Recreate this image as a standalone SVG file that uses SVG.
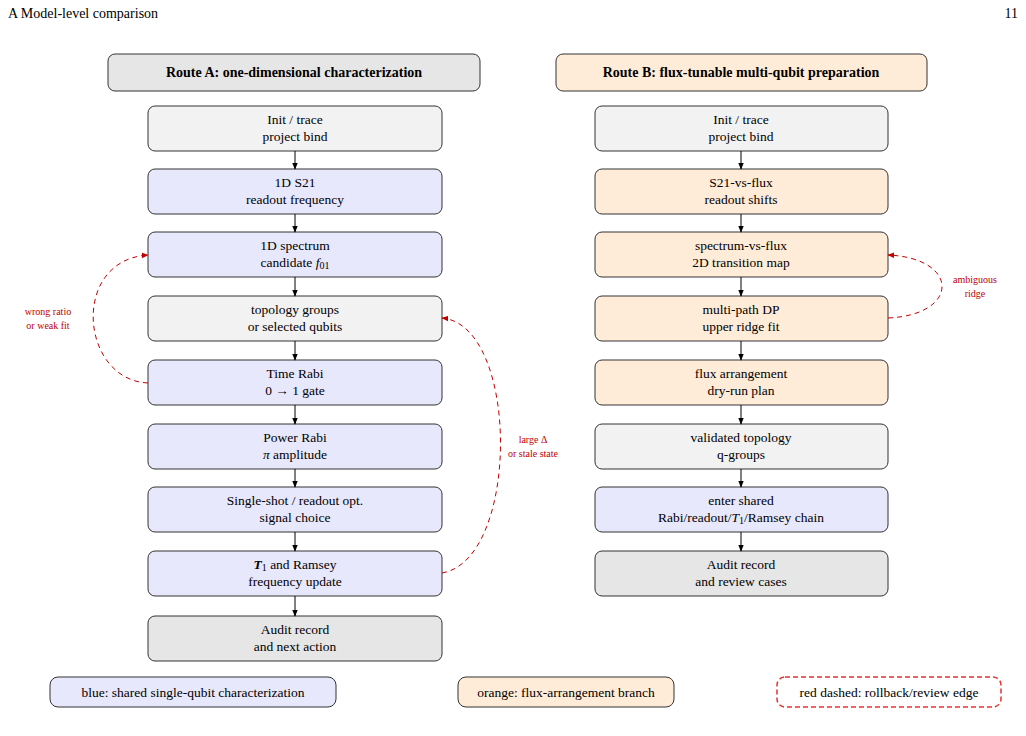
<svg xmlns="http://www.w3.org/2000/svg" width="1026" height="736" viewBox="0 0 1026 736">
<defs>
<marker id="ah" viewBox="0 0 10 10" refX="9" refY="5" markerWidth="7" markerHeight="7" orient="auto"><path d="M0,1 L10,5 L0,9 z" fill="#000"/></marker>
<marker id="ar" viewBox="0 0 10 10" refX="9" refY="5" markerWidth="7" markerHeight="7" orient="auto"><path d="M0,1 L10,5 L0,9 z" fill="#c00000"/></marker>
</defs>
<style>
text{font-family:"Liberation Serif","Times New Roman",serif;fill:#000}
.n{font-size:13.5px;text-anchor:middle}
.h{font-size:14px;font-weight:bold;text-anchor:middle}
.g rect{stroke:#333;stroke-width:1}
.gray{fill:#f2f2f2}.dgray{fill:#e6e6e6}.blue{fill:#e8e8fc}.org{fill:#ffecd8}
.c{stroke:#000;stroke-width:1;fill:none;marker-end:url(#ah)}
.r{stroke:#c00000;stroke-width:1;fill:none;stroke-dasharray:5,4;marker-end:url(#ar)}
.rl{font-size:10px;fill:#c00000;text-anchor:middle}
</style>
<rect width="1026" height="736" fill="#fff"/>
<text x="8" y="18" font-size="14">A   Model-level comparison</text>
<text x="1018" y="18" font-size="14" text-anchor="end">11</text>

<g id="hdrA" class="g"><rect x="108" y="54" width="372" height="37" rx="7" class="dgray"/><text class="h" x="294" y="77">Route A: one-dimensional characterization</text></g>
<g id="hdrB" class="g"><rect x="556" y="54" width="371" height="37" rx="7" class="org"/><text class="h" x="741" y="77">Route B: flux-tunable multi-qubit preparation</text></g>

<g id="a1" class="g"><rect x="148" y="106" width="294" height="45" rx="7" class="gray"/><text class="n" x="295" y="124">Init / trace</text><text class="n" x="295" y="141">project bind</text></g>
<g id="a2" class="g"><rect x="148" y="169" width="294" height="45" rx="7" class="blue"/><text class="n" x="295" y="187">1D S21</text><text class="n" x="295" y="204">readout frequency</text></g>
<g id="a3" class="g"><rect x="148" y="232" width="294" height="45" rx="7" class="blue"/><text class="n" x="295" y="250">1D spectrum</text><text class="n" x="295" y="267">candidate <tspan font-style="italic">f</tspan><tspan font-size="10" dy="2">01</tspan></text></g>
<g id="a4" class="g"><rect x="148" y="296" width="294" height="45" rx="7" class="gray"/><text class="n" x="295" y="314">topology groups</text><text class="n" x="295" y="331">or selected qubits</text></g>
<g id="a5" class="g"><rect x="148" y="360" width="294" height="45" rx="7" class="blue"/><text class="n" x="295" y="378">Time Rabi</text><text class="n" x="295" y="395">0   →   1 gate</text></g>
<g id="a6" class="g"><rect x="148" y="424" width="294" height="45" rx="7" class="blue"/><text class="n" x="295" y="442">Power Rabi</text><text class="n" x="295" y="459"><tspan font-style="italic">π</tspan> amplitude</text></g>
<g id="a7" class="g"><rect x="148" y="487" width="294" height="45" rx="7" class="blue"/><text class="n" x="295" y="505">Single-shot / readout opt.</text><text class="n" x="295" y="522">signal choice</text></g>
<g id="a8" class="g"><rect x="148" y="551" width="294" height="45" rx="7" class="blue"/><text class="n" x="295" y="569"><tspan font-style="italic" font-weight="bold">T</tspan><tspan font-size="10" dy="2">1</tspan><tspan dy="-2"> and Ramsey</tspan></text><text class="n" x="295" y="586">frequency update</text></g>
<g id="a9" class="g"><rect x="148" y="616" width="294" height="45" rx="7" class="dgray"/><text class="n" x="295" y="634">Audit record</text><text class="n" x="295" y="651">and next action</text></g>

<g id="b1" class="g"><rect x="595" y="106" width="293" height="45" rx="7" class="gray"/><text class="n" x="741" y="124">Init / trace</text><text class="n" x="741" y="141">project bind</text></g>
<g id="b2" class="g"><rect x="595" y="169" width="293" height="45" rx="7" class="org"/><text class="n" x="741" y="187">S21-vs-flux</text><text class="n" x="741" y="204">readout shifts</text></g>
<g id="b3" class="g"><rect x="595" y="232" width="293" height="45" rx="7" class="org"/><text class="n" x="741" y="250">spectrum-vs-flux</text><text class="n" x="741" y="267">2D transition map</text></g>
<g id="b4" class="g"><rect x="595" y="296" width="293" height="45" rx="7" class="org"/><text class="n" x="741" y="314">multi-path DP</text><text class="n" x="741" y="331">upper ridge fit</text></g>
<g id="b5" class="g"><rect x="595" y="360" width="293" height="45" rx="7" class="org"/><text class="n" x="741" y="378">flux arrangement</text><text class="n" x="741" y="395">dry-run plan</text></g>
<g id="b6" class="g"><rect x="595" y="424" width="293" height="45" rx="7" class="gray"/><text class="n" x="741" y="442">validated topology</text><text class="n" x="741" y="459">q-groups</text></g>
<g id="b7" class="g"><rect x="595" y="487" width="293" height="45" rx="7" class="blue"/><text class="n" x="741" y="505">enter shared</text><text class="n" x="741" y="522">Rabi/readout/<tspan font-style="italic">T</tspan><tspan font-size="10" dy="2">1</tspan><tspan dy="-2">/Ramsey chain</tspan></text></g>
<g id="b8" class="g"><rect x="595" y="551" width="293" height="45" rx="7" class="dgray"/><text class="n" x="741" y="569">Audit record</text><text class="n" x="741" y="586">and review cases</text></g>

<g id="connectors">
<path class="c" d="M295,151 V169"/><path class="c" d="M295,214 V232"/><path class="c" d="M295,277 V296"/><path class="c" d="M295,341 V360"/>
<path class="c" d="M295,405 V424"/><path class="c" d="M295,469 V487"/><path class="c" d="M295,532 V551"/><path class="c" d="M295,596 V616"/>
<path class="c" d="M741,151 V169"/><path class="c" d="M741,214 V232"/><path class="c" d="M741,277 V296"/><path class="c" d="M741,341 V360"/>
<path class="c" d="M741,405 V424"/><path class="c" d="M741,469 V487"/><path class="c" d="M741,532 V551"/>
<path class="r" d="M148,383 C80,380 70,260 148,255"/>
<path class="r" d="M442,573 C520,560 520,325 442,318"/>
<path class="r" d="M888,318 C960,315 960,258 888,255"/>
</g>
<text class="rl" x="48" y="315">wrong ratio</text><text class="rl" x="48" y="329">or weak fit</text>
<text class="rl" x="533" y="443">large Δ</text><text class="rl" x="533" y="457">or stale state</text>
<text class="rl" x="975" y="283">ambiguous</text><text class="rl" x="975" y="297">ridge</text>

<g id="legend">
<rect x="50" y="677" width="286" height="30" rx="8" fill="#e8e8fc" stroke="#333"/><text x="193" y="697" font-size="13.5" text-anchor="middle">blue: shared single-qubit characterization</text>
<rect x="458" y="677" width="216" height="30" rx="8" fill="#ffecd8" stroke="#333"/><text x="566" y="697" font-size="13.5" text-anchor="middle">orange: flux-arrangement branch</text>
<rect x="777" y="677" width="224" height="30" rx="8" fill="#fff" stroke="#e83030" stroke-width="1.5" stroke-dasharray="5,3"/><text x="889" y="697" font-size="13.5" text-anchor="middle">red dashed: rollback/review edge</text>
</g>
</svg>
